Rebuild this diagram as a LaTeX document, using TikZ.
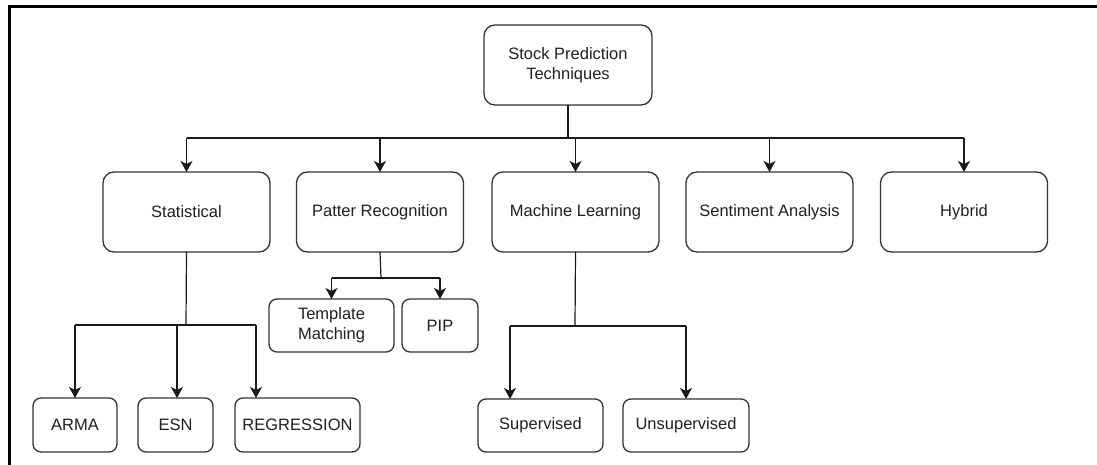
\documentclass[tikz,border=0pt]{standalone}
\usepackage{fontspec}
\setmainfont{Liberation Sans}
\usetikzlibrary{arrows.meta}
\definecolor{edge}{HTML}{1A1A1A}
\definecolor{boxline}{HTML}{333333}
\definecolor{txt}{HTML}{202020}
\tikzset{
  box/.style={draw=boxline, line width=1.3pt, rounded corners=#1, align=center,
    text=txt, inner sep=0pt, outer sep=0pt,
    font=\fontsize{16.5}{20}\selectfont},
  box/.default=11pt,
  big/.style={box=11pt, minimum width=167pt, minimum height=80pt},
  small/.style={box=8pt, minimum height=53pt},
  link/.style={draw=edge, line width=1.2pt},
  arr/.style={link, -{Stealth[length=11pt, width=12pt, inset=3pt]}}
}
\begin{document}
\begin{tikzpicture}[x=1pt, y=-1pt]
  \useasboundingbox (0,0) rectangle (1097,465);
  % frame edges
  \draw[line width=3pt, line cap=rect] (9,465) -- (9,7) -- (1097,7);

  % root
  \node[big, minimum width=168pt] (root) at (568,65) {Stock Prediction\\Techniques};

  % categories
  \node[big] (stat) at (186.5,212) {Statistical};
  \node[big] (pat)  at (380,212)   {Patter Recognition};
  \node[big] (ml)   at (575.5,212) {Machine Learning};
  \node[big] (sent) at (769.5,212) {Sentiment Analysis};
  \node[big] (hyb)  at (964,212)   {Hybrid};

  % pattern recognition children
  \node[small, minimum width=125pt] (tm)  at (331.5,325.5) {Template\\Matching};
  \node[small, minimum width=76pt]  (pip) at (440,325.5)   {PIP};

  % statistical children
  \node[small, minimum width=84pt, minimum height=54pt]  (arma) at (75,425)    {ARMA};
  \node[small, minimum width=75pt, minimum height=54pt]  (esn)  at (175.5,425) {ESN};
  \node[small, minimum width=125pt, minimum height=54pt] (reg)  at (297.5,425) {REGRESSION};

  % machine learning children
  \node[small, minimum width=125pt] (sup) at (540.5,425.5) {Supervised};
  \node[small, minimum width=126pt] (uns) at (686,425.5)   {Unsupervised};

  % bus from root to categories
  \coordinate (bus) at (568,138);
  \draw[link] (root.south) -- (bus);
  \draw[link] (stat.north |- bus) -- (hyb.north |- bus);
  \foreach \n in {stat,pat,ml,sent,hyb}
    \draw[arr] (\n.north |- bus) -- (\n.north);

  % statistical branch
  \coordinate (sbus) at (186,325);
  \coordinate (esnin) at ([xshift=1.5pt]esn.north);
  \coordinate (regin) at ([xshift=21pt]reg.north west);
  \draw[link] (stat.south) -- (sbus);
  \draw[link] (arma.north |- sbus) -- (regin |- sbus);
  \draw[arr] (arma.north |- sbus) -- (arma.north);
  \draw[arr] (esnin |- sbus) -- (esnin);
  \draw[arr] (regin |- sbus) -- (regin);

  % pattern branch
  \coordinate (pbus) at (381,278);
  \draw[link] (pat.south) -- (pbus);
  \draw[link] (tm.north |- pbus) -- (pip.north |- pbus);
  \draw[arr] (tm.north |- pbus) -- (tm.north);
  \draw[arr] (pip.north |- pbus) -- (pip.north);

  % machine learning branch
  \coordinate (mbus) at (575,326);
  \coordinate (supin) at ([xshift=32pt]sup.north west);
  \draw[link] (ml.south) -- (mbus);
  \draw[link] (supin |- mbus) -- (uns.north |- mbus);
  \draw[arr] (supin |- mbus) -- (supin);
  \draw[arr] (uns.north |- mbus) -- (uns.north);
\end{tikzpicture}
\end{document}
